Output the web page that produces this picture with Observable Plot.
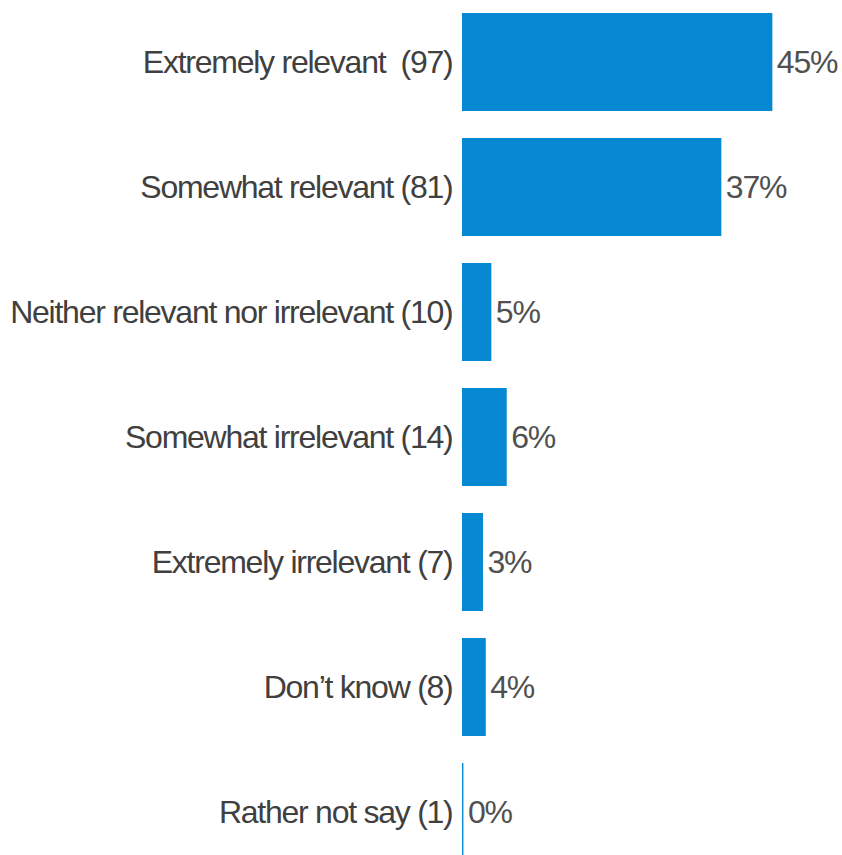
<!DOCTYPE html>
<html>
<head>
<meta charset="utf-8">
<script src="https://cdn.jsdelivr.net/npm/d3@7"></script>
<script src="https://cdn.jsdelivr.net/npm/@observablehq/plot@0.6"></script>
<style>
  html, body { margin: 0; padding: 0; background: #fff; overflow: hidden; }
  #chart svg { display: block; font-family: "Liberation Sans", Arial, sans-serif; }
</style>
</head>
<body>
<div id="chart"></div>
<script>
const categories = [
  "Extremely relevant\u00a0\u00a0(97)",
  "Somewhat relevant (81)",
  "Neither relevant nor irrelevant (10)",
  "Somewhat irrelevant (14)",
  "Extremely irrelevant (7)",
  "Don\u2019t know (8)",
  "Rather not say (1)"
];
const values = [44.4, 37.1, 4.2, 6.4, 3.0, 3.4, 0.2];
const valueLabels = ["45%", "37%", "5%", "6%", "3%", "4%", "0%"];

const data = categories.map((c, i) => ({category: c, value: values[i], label: valueLabels[i]}));

const chart = Plot.plot({
  width: 842,
  height: 855,
  marginLeft: 462,
  marginRight: 0,
  marginTop: 0,
  marginBottom: 0,
  x: {domain: [0, 380 / 6.99], range: [462, 842], axis: null},
  y: {domain: categories, range: [12, 861.7], paddingInner: 0.213, paddingOuter: 0, axis: null},
  style: {fontFamily: "Liberation Sans, Arial, sans-serif"},
  marks: [
    Plot.barX(data, {x: "value", y: "category", fill: "#0688D2"}),
    Plot.text(data, {
      x: 0, y: "category", text: "category", textAnchor: "end", dx: -10,
      fontSize: 32, fill: "#404040", lineAnchor: "middle"
    }),
    Plot.text(data, {
      x: "value", y: "category", text: "label", textAnchor: "start", dx: 4,
      fontSize: 32, fill: "#505050", lineAnchor: "middle"
    })
  ]
});
chart.querySelectorAll("text").forEach(t => t.setAttribute("letter-spacing", "-1.25"));
document.getElementById("chart").appendChild(chart);
</script>
</body>
</html>
